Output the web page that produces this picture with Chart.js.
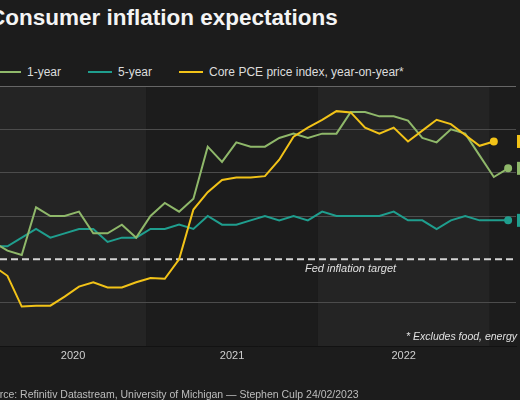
<!DOCTYPE html>
<html>
<head>
<meta charset="utf-8">
<script src="https://cdn.jsdelivr.net/npm/chart.js@4.4.1/dist/chart.umd.min.js"></script>
<style>
  html, body { margin: 0; padding: 0; background: #1c1c1c; }
  body { width: 520px; height: 400px; overflow: hidden; position: relative; font-family: 'Liberation Sans', Arial, sans-serif; }
  #chart { position: absolute; left: 0; top: 0; }
  .title { position: absolute; left: -11px; top: 5px; font-size: 22.5px; font-weight: bold; color: #f4f4f4; white-space: nowrap; line-height: 26px; }
  .legend { position: absolute; left: -3px; top: 64px; display: flex; align-items: center; font-size: 12px; line-height: 16px; color: #dcdcdc; white-space: nowrap; }
  .legend .item { display: flex; align-items: center; margin-right: 27px; }
  .legend .swatch { width: 24px; height: 2px; margin-right: 6px; }
  .source { position: absolute; left: -19px; top: 388px; font-size: 10.5px; line-height: 13px; color: #bdbdbd; white-space: nowrap; }
</style>
</head>
<body>
<div class="title">Consumer inflation expectations</div>
<div class="legend" id="legend"></div>
<canvas id="chart" width="520" height="400"></canvas>
<div class="source">Source: Refinitiv Datastream, University of Michigan — Stephen Culp 24/02/2023</div>

<script>
// monthly observations, Feb 2020 .. Feb 2023
const months = [
    '2020-02', '2020-03', '2020-04', '2020-05', '2020-06', '2020-07', '2020-08', '2020-09', '2020-10', '2020-11', '2020-12',
    '2021-01', '2021-02', '2021-03', '2021-04', '2021-05', '2021-06', '2021-07', '2021-08', '2021-09', '2021-10', '2021-11', '2021-12',
    '2022-01', '2022-02', '2022-03', '2022-04', '2022-05', '2022-06', '2022-07', '2022-08', '2022-09', '2022-10', '2022-11', '2022-12',
    '2023-01', '2023-02'
];

const oneYear = [
    2.4, 2.2, 2.1, 3.2, 3.0, 3.0, 3.1, 2.6, 2.6, 2.8, 2.5,
    3.0, 3.3, 3.1, 3.4, 4.6, 4.25, 4.7, 4.6, 4.6, 4.8, 4.9, 4.8,
    4.9, 4.9, 5.4, 5.4, 5.3, 5.3, 5.2, 4.8, 4.7, 5.0, 4.9, 4.4,
    3.9, 4.1
];

const fiveYear = [
    2.3, 2.3, 2.5, 2.7, 2.5, 2.6, 2.7, 2.7, 2.4, 2.5, 2.5,
    2.7, 2.7, 2.8, 2.7, 3.0, 2.8, 2.8, 2.9, 3.0, 2.9, 3.0, 2.9,
    3.1, 3.0, 3.0, 3.0, 3.0, 3.1, 2.9, 2.9, 2.7, 2.9, 3.0, 2.9,
    2.9, 2.9
];

// core PCE ends one month earlier (Jan 2023)
const corePce = [
    1.85, 1.62, 0.91, 0.93, 0.93, 1.14, 1.37, 1.47, 1.35, 1.35, 1.47,
    1.57, 1.55, 2.0, 3.15, 3.55, 3.83, 3.89, 3.89, 3.92, 4.3, 4.83, 5.04,
    5.22, 5.42, 5.39, 5.04, 4.9, 5.04, 4.72, 4.97, 5.22, 5.12, 4.87, 4.62,
    4.72
];

const fedTarget = 2;
const yTicks = [0, 1, 2, 3, 4, 5, 6];
const yearLabels = ['2020', '2021', '2022'];
const bandYears = ['2020', '2021', '2022', '2023'];

const seriesNames = ['1-year', '5-year', 'Core PCE price index, year-on-year*'];
const seriesColors = ['#8fb86a', '#1f9e8e', '#f2c318'];

// visible window of the month axis (months since Jan 2020)
const xMin = 1.78;
const xMax = 37.85;
const pointOffset = 0.3;

function monthPos(label) {
    const [y, m] = label.split('-').map(Number);
    return (y - 2020) * 12 + (m - 1) + pointOffset;
}

function toPoints(values) {
    return values.map((v, i) => ({ x: monthPos(months[i]), y: v }));
}

function yearCenter(year) {
    const start = Math.max(xMin, (Number(year) - 2020) * 12);
    const end = Math.min(xMax, (Number(year) - 2019) * 12);
    return (start + end) / 2;
}

// html legend
const legendEl = document.getElementById('legend');
seriesNames.forEach((name, i) => {
    const item = document.createElement('div');
    item.className = 'item';
    item.innerHTML = `<span class="swatch" style="background:${seriesColors[i]}"></span><span>${name}</span>`;
    legendEl.appendChild(item);
});

const yearBands = {
    id: 'yearBands',
    beforeDraw(chart) {
        const { ctx, chartArea: a, scales: { x } } = chart;
        ctx.save();
        bandYears.forEach((year, i) => {
            const s = Math.max(xMin, (Number(year) - 2020) * 12);
            const e = Math.min(xMax, (Number(year) - 2019) * 12);
            if (e <= s) return;
            ctx.fillStyle = i % 2 === 0 ? '#242424' : '#1c1c1c';
            const x0 = x.getPixelForValue(s);
            const x1 = x.getPixelForValue(e);
            ctx.fillRect(x0, a.top, x1 - x0, a.bottom - a.top);
        });
        ctx.restore();
    }
};

const annotations = {
    id: 'annotations',
    afterDatasetsDraw(chart) {
        const { ctx, chartArea: a, scales: { x, y } } = chart;
        ctx.save();

        // fed target label
        ctx.font = 'italic 11px "Liberation Sans", Arial, sans-serif';
        ctx.fillStyle = '#e0e0e0';
        ctx.textBaseline = 'middle';
        ctx.textAlign = 'left';
        ctx.fillText('Fed inflation target', x.getPixelForValue(23.1), y.getPixelForValue(fedTarget) + 10);

        // footnote
        ctx.font = 'italic 10.5px "Liberation Sans", Arial, sans-serif';
        ctx.textAlign = 'right';
        ctx.fillText('* Excludes food, energy', a.right + 1, a.bottom - 9);

        // end-of-line value tags (cut off at the right edge)
        [0, 1, 2].forEach(i => {
            const meta = chart.getDatasetMeta(i);
            const last = meta.data[meta.data.length - 1];
            const values = chart.data.datasets[i].data;
            const v = values[values.length - 1].y;
            ctx.fillStyle = seriesColors[i];
            ctx.fillRect(a.right + 1, last.y - 6.5, 30, 13);
            ctx.fillStyle = '#1c1c1c';
            ctx.font = 'bold 10px "Liberation Sans", Arial, sans-serif';
            ctx.textAlign = 'left';
            ctx.fillText(v.toFixed(1) + '%', a.right + 4, last.y);
        });
        ctx.restore();
    }
};

function lastDot(values) {
    return ctx => (ctx.dataIndex === values.length - 1 ? 3 : 0);
}

Chart.defaults.font.family = "'Liberation Sans', Arial, sans-serif";

new Chart(document.getElementById('chart'), {
    type: 'line',
    data: {
        datasets: [
            {
                label: seriesNames[0],
                data: toPoints(oneYear),
                borderColor: seriesColors[0],
                backgroundColor: seriesColors[0],
                borderWidth: 2,
                pointRadius: lastDot(oneYear),
                order: 2
            },
            {
                label: seriesNames[1],
                data: toPoints(fiveYear),
                borderColor: seriesColors[1],
                backgroundColor: seriesColors[1],
                borderWidth: 2,
                pointRadius: lastDot(fiveYear),
                order: 3
            },
            {
                label: seriesNames[2],
                data: toPoints(corePce),
                borderColor: seriesColors[2],
                backgroundColor: seriesColors[2],
                borderWidth: 2,
                pointRadius: lastDot(corePce),
                order: 1
            },
            {
                label: 'Fed inflation target',
                data: [{ x: xMin, y: fedTarget }, { x: xMax, y: fedTarget }],
                borderColor: '#d4d4d4',
                borderWidth: 2,
                borderDash: [7, 4],
                pointRadius: 0,
                order: 10
            }
        ]
    },
    options: {
        responsive: false,
        animation: false,
        layout: { autoPadding: false, padding: { top: 86, left: 0, right: 4, bottom: 34.8 } },
        plugins: {
            legend: { display: false },
            tooltip: { enabled: false }
        },
        elements: { line: { tension: 0 } },
        scales: {
            x: {
                type: 'linear',
                min: xMin,
                max: xMax,
                afterBuildTicks: scale => {
                    scale.ticks = yearLabels.map(y => ({ value: yearCenter(y), label: y }));
                },
                ticks: {
                    color: '#cfcfcf',
                    font: { size: 11 },
                    padding: 3,
                    maxRotation: 0,
                    autoSkip: false,
                    callback: (value, index) => yearLabels[index]
                },
                grid: { display: false, drawTicks: false },
                border: { display: true, color: '#121212', width: 1 }
            },
            y: {
                min: 0,
                max: 6,
                afterBuildTicks: scale => {
                    scale.ticks = yTicks.map(v => ({ value: v }));
                },
                afterFit: scale => {
                    scale.width = 0;
                },
                ticks: { display: false },
                grid: {
                    drawTicks: false,
                    lineWidth: 1,
                    color: ctx => {
                        const v = ctx.tick.value;
                        if (v === 0 || v === fedTarget) return 'rgba(0,0,0,0)';
                        if (v === 6) return '#666666';
                        return '#4c4c4c';
                    }
                },
                border: { display: false }
            }
        }
    },
    plugins: [yearBands, annotations]
});
</script>
</body>
</html>
